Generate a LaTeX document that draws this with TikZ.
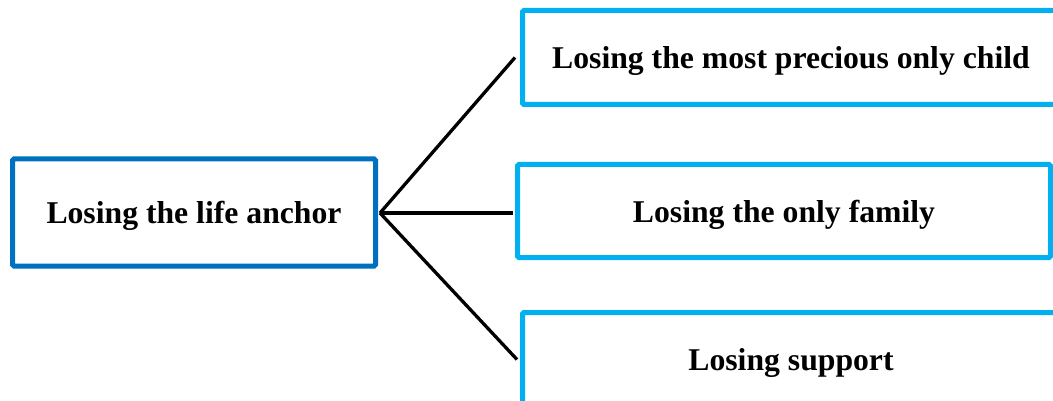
\documentclass[tikz,border=0pt]{standalone}
\usepackage{fontspec}
\setmainfont{Liberation Serif}
\definecolor{anchorblue}{HTML}{0070C0}
\definecolor{lossblue}{HTML}{00B0F0}
\begin{document}
\begin{tikzpicture}[x=1pt,y=-1pt,
  box/.style={draw, rectangle, inner sep=0pt, line width=5pt, rounded corners=1.5pt,
    text depth=0pt, font=\fontsize{31.7}{36}\selectfont\bfseries, text=black},
  mainbox/.style={box, draw=anchorblue},
  lossbox/.style={box, draw=lossblue},
  link/.style={line width=3.3pt, black}]
\useasboundingbox (0,0) rectangle (1053,401);
\clip (0,0) rectangle (1053,401);
\node[mainbox, minimum width=363pt, minimum height=107pt] (anchor) at (194,212.5) {Losing the life anchor};
\node[lossbox, minimum width=537pt, minimum height=94pt] (child) at (791,57.5) {Losing the most precious only child};
\node[lossbox, minimum width=533pt, minimum height=93pt] (family) at (784,211) {Losing the only family};
\node[lossbox, minimum width=537pt, minimum height=94pt] (support) at (791,359.5) {Losing support};
\coordinate (hub) at ([xshift=2pt,yshift=-0.5pt]anchor.east);
\draw[link] (hub) -- ([xshift=-5pt]child.west);
\draw[link] (hub) -- ([xshift=-2pt]hub -| family.west);
\draw[link] (hub) -- ([xshift=-3pt]support.west);
\end{tikzpicture}
\end{document}
